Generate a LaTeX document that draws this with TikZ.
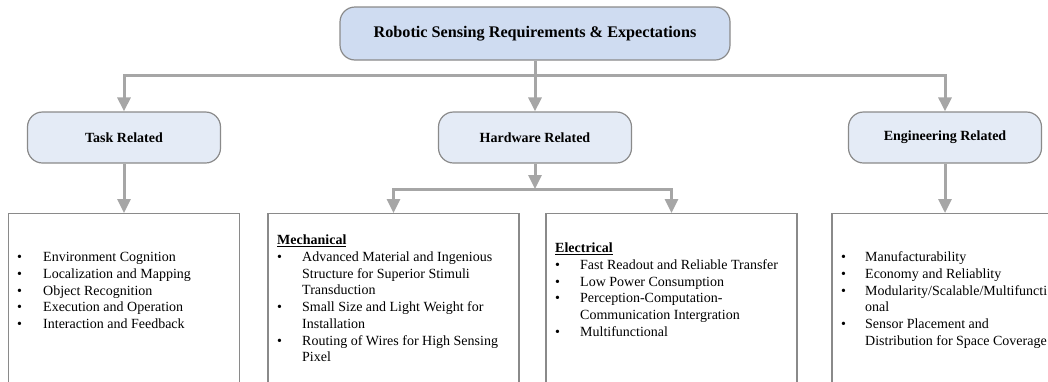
\documentclass[tikz,border=0pt]{standalone}
\usepackage{fontspec}
\setmainfont{Liberation Serif}
\usetikzlibrary{arrows.meta}
\definecolor{topfill}{HTML}{CFDCF1}
\definecolor{catfill}{HTML}{E4EBF6}
\definecolor{edgegray}{HTML}{8A8A8A}
\definecolor{linkgray}{HTML}{A6A6A6}
\tikzset{
  topbox/.style={draw=edgegray, line width=1.2pt, fill=topfill, rounded corners=15pt, minimum width=390pt, minimum height=53pt, font=\fontsize{16.2}{19}\selectfont\bfseries},
  catbox/.style={draw=edgegray, line width=1.2pt, fill=catfill, rounded corners=15pt, minimum width=193pt, minimum height=51pt, font=\fontsize{14}{16.7}\selectfont\bfseries},
  listbox/.style={draw=edgegray, line width=1.2pt, anchor=north, minimum height=190pt},
  listtext/.style={anchor=north west, inner sep=0pt, font=\fontsize{14}{16.7}\selectfont},
  link/.style={draw=linkgray, line width=3pt},
  linkarrow/.style={link, -{Triangle[width=13pt,length=14pt]}}
}
\newcommand{\bl}{\textbullet}
\begin{document}
\begin{tikzpicture}[x=1pt,y=-1pt]
\useasboundingbox (0,0) rectangle (1048,381);
\clip (0,0) rectangle (1048,381);
\node[topbox] (top) at (535,33.5) {Robotic Sensing Requirements \& Expectations};
\node[catbox] (task) at (124,137.5) {Task Related};
\node[catbox] (hw) at (535,137.5) {Hardware Related};
\node[catbox] (eng) at (945,137.5) {Engineering Related};
\node[listbox, minimum width=231pt] (tasklist) at (124,213) {};
\node[listbox, minimum width=251pt] (mech) at (393.5,213) {};
\node[listbox, minimum width=251pt] (elec) at (671.5,213) {};
\node[listbox, minimum width=226pt] (englist) at (945,213) {};
\node[listtext] (tasktxt) at (17,250) {\begin{tabular}{@{}p{26pt}@{}l@{}}
\bl & Environment Cognition\\
\bl & Localization and Mapping\\
\bl & Object Recognition\\
\bl & Execution and Operation\\
\bl & Interaction and Feedback
\end{tabular}};
\node[listtext] (mechtxt) at (277,233) {\begin{tabular}{@{}p{25pt}@{}l@{}}
\multicolumn{2}{@{}l}{\underline{\textbf{Mechanical}}}\\
\bl & Advanced Material and Ingenious\\
 & Structure for Superior Stimuli\\
 & Transduction\\
\bl & Small Size and Light Weight for\\
 & Installation\\
\bl & Routing of Wires for High Sensing\\
 & Pixel
\end{tabular}};
\node[listtext] (electxt) at (555,241) {\begin{tabular}{@{}p{25pt}@{}l@{}}
\multicolumn{2}{@{}l}{\underline{\textbf{Electrical}}}\\
\bl & Fast Readout and Reliable  Transfer\\
\bl & Low Power Consumption\\
\bl & Perception-Computation-\\
 & Communication Intergration\\
\bl & Multifunctional
\end{tabular}};
\node[listtext] (engtxt) at (841,250) {\begin{tabular}{@{}p{24pt}@{}l@{}}
\bl & Manufacturability\\
\bl & Economy and Reliablity\\
\bl & Modularity/Scalable/Multifuncti\\
 & onal\\
\bl & Sensor Placement and\\
 & Distribution for Space Coverage
\end{tabular}};
\coordinate (split) at (535,75);
\coordinate (hwsplit) at (535,189);
\draw[linkarrow] (top.south) -- (hw.north);
\draw[linkarrow] (split) -| (task.north);
\draw[linkarrow] (split) -| (eng.north);
\draw[linkarrow] (task.south) -- (tasklist.north);
\draw[linkarrow] (eng.south) -- (englist.north);
\draw[linkarrow] (hw.south) -- (hwsplit);
\draw[linkarrow] (hwsplit) -| (mech.north);
\draw[linkarrow] (hwsplit) -| (elec.north);
\end{tikzpicture}
\end{document}
